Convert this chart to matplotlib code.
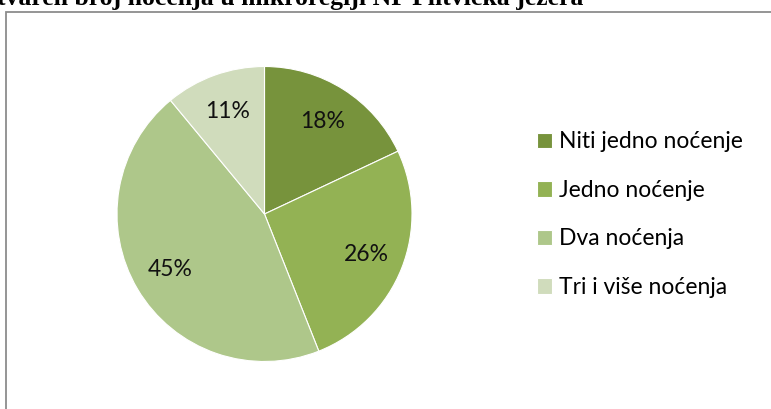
import matplotlib.pyplot as plt
from matplotlib.patches import Rectangle

# podaci
labels = ['Niti jedno noćenje', 'Jedno noćenje', 'Dva noćenja', 'Tri i više noćenja']
values = [18, 26, 45, 11]
colors = ['#77933C', '#93B254', '#AEC78A', '#D0DCBC']
title = 'Ostvaren broj noćenja u mikroregiji NP Plitvička jezera'

W, H = 771, 409
fig = plt.figure(figsize=(W / 100, H / 100), dpi=100)

# okvir grafikona (odrezan desno i dolje)
fig.patches.append(Rectangle((6 / W, -0.1), 1.2, (H - 12) / H + 0.1, transform=fig.transFigure,
                             fill=False, edgecolor='#8c8c8c', linewidth=1.3))

# naslov, gornji dio odrezan
fig.text(583 / W, 1 - 5 / H, title, ha='right', va='baseline', fontsize=18.5,
         fontweight='bold', family='Liberation Serif')

cx, cy, r = 264.5, 214, 147.5
ax = fig.add_axes([(cx - r) / W, (H - cy - r) / H, 2 * r / W, 2 * r / H])
wedges, texts = ax.pie(values, colors=colors, startangle=90, counterclock=False,
                       labels=[f'{v}%' for v in values], labeldistance=0.74,
                       wedgeprops=dict(edgecolor='white', linewidth=0.8),
                       textprops=dict(fontsize=16.5, family='Lato', color='#111111'))
for t in texts:
    t.set_ha('center')
    t.set_va('center')
ax.set_xlim(-1, 1)
ax.set_ylim(-1, 1)
ax.axis('off')

leg = fig.legend(wedges, labels, loc='upper left', bbox_to_anchor=(526 / W, 1 - 120 / H),
                 frameon=False, prop=dict(family='Lato', size=16.5),
                 handlelength=0.65, handleheight=0.65, handletextpad=0.3,
                 labelspacing=1.2, borderpad=0)

plt.savefig('out.png', dpi=100)
